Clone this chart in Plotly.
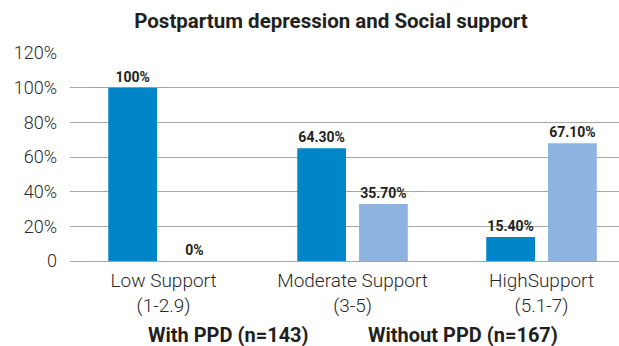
import plotly.graph_objects as go

# ---- data ----
categories = ["Low Support<br>(1-2.9)", "Moderate Support<br>(3-5)", "HighSupport<br>(5.1-7)"]
series_names = ["With PPD (n=143)", "Without PPD (n=167)"]
with_ppd = [100, 65.1, 13.8]          # bar heights as drawn
without_ppd = [0, 32.9, 68.0]
with_ppd_labels = ["100%", "64.30%", "15.40%"]
without_ppd_labels = ["0%", "35.70%", "67.10%"]
y_tickvals = [0, 20, 40, 60, 80, 100, 120]
y_ticktext = ["0", "20%", "40%", "60%", "80%", "100%", "120%"]

title_text = "Postpartum depression and Social support"
colors = ["#0086C8", "#8DB4E1"]
FONT = "Roboto"
W, H = 619, 346
ML, MR, MT, MB = 70, 0, 53, 85

fig = go.Figure()
for name, vals, labels, col in zip(series_names, [with_ppd, without_ppd],
                                   [with_ppd_labels, without_ppd_labels], colors):
    fig.add_trace(go.Bar(
        x=list(range(len(categories))), y=vals, name=name,
        marker=dict(color=col, line=dict(width=0)),
        text=labels, textposition="outside", cliponaxis=False,
        textfont=dict(family=FONT, size=14, color="#231F20", weight=700),
        showlegend=False,
    ))

plot_w = W - ML - MR
plot_h = H - MT - MB

def px_to_paper_x(px):
    return (px - ML) / plot_w

def px_to_paper_y(py):
    return (H - MB - py) / plot_h

# legend as plain bold text (no swatches in the reference)
legend_centers = [228, 463]
for name, cx in zip(series_names, legend_centers):
    fig.add_annotation(
        text=name, x=px_to_paper_x(cx), y=px_to_paper_y(335), xref="paper", yref="paper",
        xanchor="center", yanchor="middle", showarrow=False,
        font=dict(family=FONT, size=20, color="#231F20", weight=700),
    )

fig.update_layout(
    width=W, height=H,
    margin=dict(l=ML, r=MR, t=MT, b=MB, pad=0),
    paper_bgcolor="white", plot_bgcolor="white",
    barmode="group", bargap=0.346, bargroupgap=0.211,
    title=dict(text=title_text, x=331 / W, xref="container", xanchor="center",
               y=1 - 21 / H, yref="container", yanchor="middle",
               font=dict(family=FONT, size=20.5, color="#231F20", weight=700)),
    font=dict(family=FONT, color="#2A2A2A"),
    xaxis=dict(
        tickmode="array", tickvals=list(range(len(categories))), ticktext=categories,
        range=[-0.495, 2.41], showgrid=False, zeroline=False, showline=False,
        tickfont=dict(family=FONT, size=19, color="#2A2A2A", weight=300),
        ticks="", fixedrange=True, ticklabelstandoff=6,
    ),
    yaxis=dict(
        range=[0, 120], tickmode="array", tickvals=y_tickvals, ticktext=y_ticktext,
        showgrid=True, gridcolor="#A6A6A6", gridwidth=1.3,
        zeroline=True, zerolinecolor="#A6A6A6", zerolinewidth=1.3,
        showline=False, ticklabelstandoff=12,
        tickfont=dict(family=FONT, size=18, color="#2A2A2A", weight=300),
    ),
)

fig.write_html("out.html")
